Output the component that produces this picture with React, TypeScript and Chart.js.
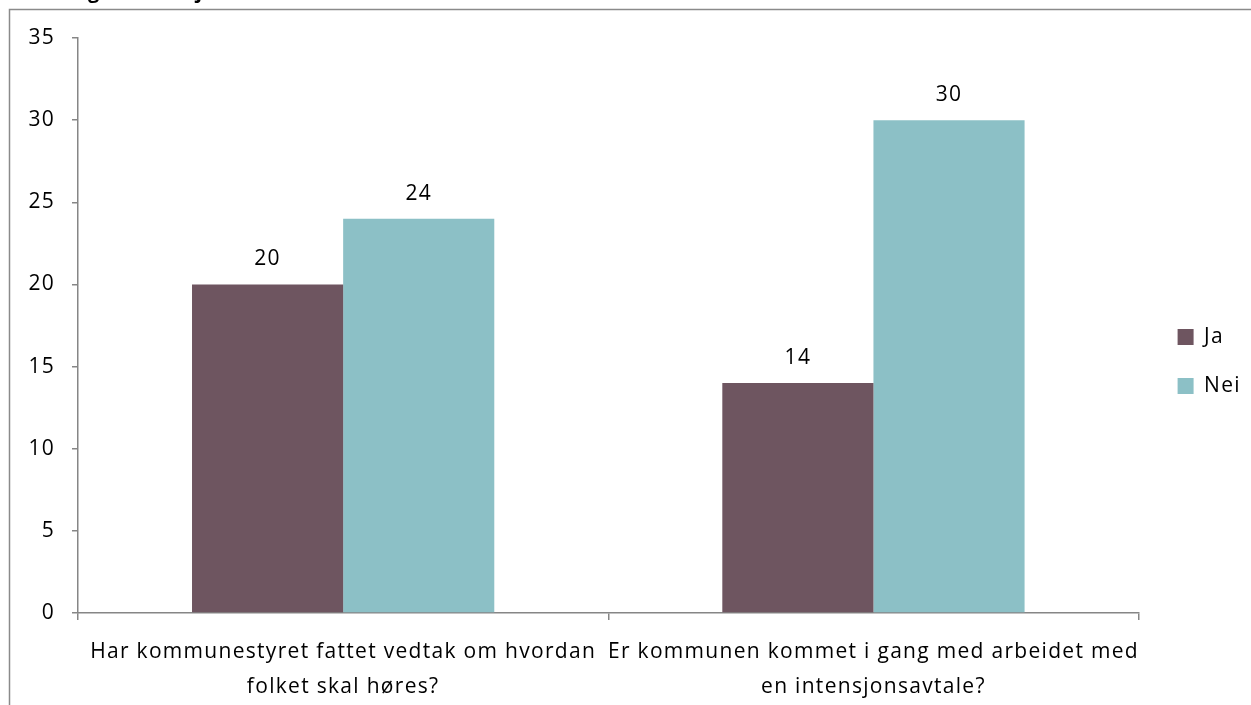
import React, { useEffect, useRef } from "react";
import { Chart, registerables } from "chart.js";

Chart.register(...registerables);

// ---- data ----
const categories: string[][] = [
  ["Har kommunestyret fattet vedtak om hvordan", "folket skal høres?"],
  ["Er kommunen kommet i gang med arbeidet med", "en intensjonsavtale?"],
];
const seriesNames: string[] = ["Ja", "Nei"];
const jaValues: number[] = [20, 14];
const neiValues: number[] = [24, 30];
const yMin = 0;
const yMax = 35;
const yStep = 5;
const titleText = "Høring av intensjonsavtale";

// ---- styles ----
const seriesColors = ["#6E5560", "#8CC0C6"];
const FONT = "'Open Sans', 'Noto Sans', sans-serif";
const AXIS = "#868686";
const LS = "1.3px";
const FS = 21;
const W = 1251;
const H = 705;

export default function App() {
  const ref = useRef<HTMLCanvasElement>(null);

  useEffect(() => {
    if (!ref.current) return;

    const framePlugin = {
      id: "framePlugin",
      beforeDraw(chart: any) {
        const c = chart.ctx;
        (c as any).letterSpacing = LS;
        c.save();
        c.fillStyle = "#ffffff";
        c.fillRect(0, 0, chart.width, chart.height);
        c.strokeStyle = "#8a8a8a";
        c.lineWidth = 1.5;
        c.beginPath();
        c.moveTo(9.5, chart.height);
        c.lineTo(9.5, 9.5);
        c.lineTo(chart.width, 9.5);
        c.stroke();
        c.fillStyle = "#000000";
        c.font = `bold 20px ${FONT}`;
        (c as any).letterSpacing = "0px";
        c.textBaseline = "alphabetic";
        c.textAlign = "left";
        c.fillText(titleText, 32, -2);
        c.restore();
      },
      afterLayout(chart: any) {
        const l = chart.legend;
        if (l) {
          l.left += 11;
          l.right += 11;
          l.top -= 10;
          l.bottom -= 10;
        }
      },
      afterDatasetsDraw(chart: any) {
        const c = chart.ctx;
        c.save();
        c.fillStyle = "#000000";
        c.font = `${FS}px ${FONT}`;
        c.textAlign = "center";
        c.textBaseline = "alphabetic";
        chart.data.datasets.forEach((ds: any, di: number) => {
          const meta = chart.getDatasetMeta(di);
          meta.data.forEach((el: any, i: number) => {
            c.fillText(String(ds.data[i]), el.x, el.y - 19);
          });
        });
        c.restore();
      },
    };

    const chart = new Chart(ref.current, {
      type: "bar",
      data: {
        labels: categories,
        datasets: [
          {
            label: seriesNames[0],
            data: jaValues,
            backgroundColor: seriesColors[0],
            categoryPercentage: 0.57,
            barPercentage: 1.0,
          },
          {
            label: seriesNames[1],
            data: neiValues,
            backgroundColor: seriesColors[1],
            categoryPercentage: 0.57,
            barPercentage: 1.0,
          },
        ],
      },
      options: {
        responsive: false,
        animation: false,
        devicePixelRatio: 1,
        layout: { padding: { left: 10, top: 38, right: 15, bottom: 0 } },
        plugins: {
          legend: {
            position: "right",
            align: "center",
            labels: {
              boxWidth: 16,
              boxHeight: 16,
              padding: 28,
              color: "#000000",
              font: { family: FONT, size: FS },
            },
          },
          tooltip: { enabled: false },
          title: { display: false },
        },
        scales: {
          x: {
            offset: true,
            grid: {
              offset: true,
              drawOnChartArea: false,
              drawTicks: true,
              tickLength: 7,
              color: AXIS,
              lineWidth: 1.5,
            },
            border: { display: true, color: AXIS, width: 1.5 },
            ticks: {
              color: "#000000",
              font: { family: FONT, size: FS, lineHeight: 1.66 },
              padding: 15,
              maxRotation: 0,
              minRotation: 0,
              autoSkip: false,
            },
            afterFit(scale: any) {
              scale.height = H - 613;
            },
          },
          y: {
            min: yMin,
            max: yMax,
            grid: {
              drawOnChartArea: false,
              drawTicks: true,
              tickLength: 6,
              color: AXIS,
              lineWidth: 1.5,
            },
            border: { display: true, color: AXIS, width: 1.5 },
            ticks: {
              stepSize: yStep,
              color: "#000000",
              font: { family: FONT, size: FS },
              padding: 17,
            },
            afterFit(scale: any) {
              scale.width = 68;
            },
          },
        },
      },
      plugins: [framePlugin],
    } as any);

    return () => chart.destroy();
  }, []);

  return (
    <div style={{ position: "fixed", left: 0, top: 0, width: W, height: H, background: "#fff" }}>
      <canvas ref={ref} width={W} height={H} style={{ display: "block" }} />
    </div>
  );
}
